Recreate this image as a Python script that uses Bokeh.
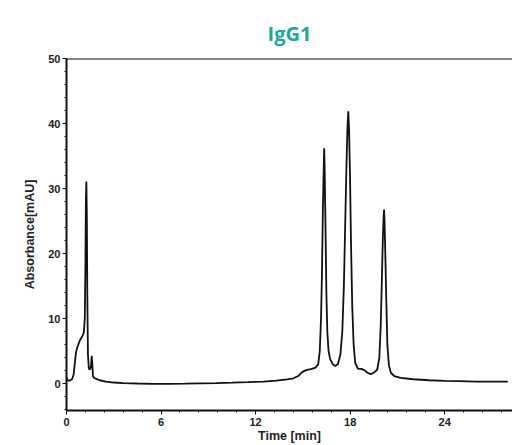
from bokeh.plotting import figure
from bokeh.models import SingleIntervalTicker, Range1d, ColumnDataSource, Span
from bokeh.embed import file_html
from bokeh.resources import INLINE

# --- data ---
time_min = [0.0, 0.08, 0.2, 0.35, 0.45, 0.52, 0.6, 0.68, 0.72, 0.8, 0.9, 1.0, 1.1,
            1.16, 1.2, 1.23, 1.26, 1.29, 1.32, 1.36, 1.42, 1.5, 1.56, 1.6, 1.64,
            1.68, 1.75, 1.9, 2.1, 2.5, 3.0, 3.6, 4.5, 5.5, 6.5, 7.5, 8.5, 9.5, 10.5,
            11.5, 12.5, 13.3, 14.0, 14.4, 14.7, 14.95, 15.2, 15.5, 15.8, 15.97,
            16.07, 16.15, 16.21, 16.27, 16.32, 16.35, 16.38, 16.43, 16.49, 16.55,
            16.63, 16.73, 16.9, 17.05, 17.22, 17.38, 17.5, 17.6, 17.68, 17.76,
            17.83, 17.88, 17.93, 17.99, 18.05, 18.13, 18.22, 18.32, 18.5, 18.7,
            18.9, 19.1, 19.3, 19.5, 19.72, 19.85, 19.94, 20.01, 20.07, 20.12, 20.15,
            20.18, 20.23, 20.29, 20.36, 20.46, 20.58, 20.8, 21.2, 22.0, 23.0, 24.0,
            25.0, 26.0, 27.0, 28.0]
absorbance = [1.0, 0.5, 0.5, 0.7, 1.4, 3.0, 4.8, 5.6, 5.8, 6.4, 6.9, 7.3, 7.9,
              10.0, 18.0, 28.0, 31.1, 26.0, 14.0, 4.5, 2.3, 2.2, 2.8, 4.3, 3.0,
              1.2, 0.9, 0.75, 0.55, 0.35, 0.2, 0.1, 0.05, 0.0, 0.0, 0.03, 0.08,
              0.12, 0.18, 0.25, 0.35, 0.5, 0.7, 0.85, 1.2, 1.8, 2.1, 2.25, 2.5,
              3.0, 5.0, 10.0, 17.0, 27.0, 33.0, 36.2, 33.0, 25.0, 14.0, 8.0, 5.0,
              3.8, 3.0, 2.75, 3.0, 4.5, 8.0, 15.0, 24.0, 33.0, 39.5, 41.9, 39.0,
              32.0, 22.0, 12.0, 6.0, 3.2, 2.3, 2.3, 2.1, 1.7, 1.5, 1.7, 2.2, 4.0,
              9.0, 16.0, 22.0, 25.5, 26.8, 25.0, 20.0, 13.0, 6.0, 2.8, 1.7, 1.2,
              0.9, 0.7, 0.55, 0.45, 0.4, 0.35, 0.35, 0.35]

x_ticks_interval = 6
y_ticks_interval = 10
x_start, x_end = 0, 28.3
y_start, y_end = -4.1, 50

title_text = "IgG1"
x_label = "Time [min]"
y_label = "Absorbance[mAU]"

source = ColumnDataSource(data=dict(t=time_min, a=absorbance))

p = figure(width=512, height=445, output_backend="svg", toolbar_location=None,
           x_range=Range1d(x_start, x_end), y_range=Range1d(y_start, y_end),
           min_border_left=66, min_border_top=58, min_border_right=0,
           min_border_bottom=34, title=title_text)

p.title.text_font = "Open Sans"
p.title.text_font_style = "bold"
p.title.text_font_size = "20px"
p.title.text_color = "#1ba99c"
p.title.align = "center"
p.title.vertical_align = "top"
p.title.standoff = 20

p.outline_line_color = None
p.xgrid.visible = False
p.ygrid.visible = False
p.background_fill_color = "white"
p.border_fill_color = "white"

p.line("t", "a", source=source, line_color="#111111", line_width=1.8)

top_line = Span(location=y_end, dimension="width", line_color="#111111", line_width=2)
p.add_layout(top_line)

for ax in (p.xaxis[0], p.yaxis[0]):
    ax.axis_line_width = 2
    ax.axis_line_color = "#111111"
    ax.major_tick_line_color = "#111111"
    ax.minor_tick_line_color = "#111111"
    ax.major_tick_in = 0
    ax.major_tick_out = 4
    ax.minor_tick_in = 0
    ax.minor_tick_out = 2
    ax.major_label_text_font = "Liberation Sans"
    ax.major_label_text_font_style = "bold"
    ax.major_label_text_font_size = "11px"
    ax.major_label_text_color = "#222222"
    ax.axis_label_text_font = "Liberation Sans"
    ax.axis_label_text_font_style = "bold"
    ax.axis_label_text_font_size = "12.5px"
    ax.axis_label_text_color = "#222222"

p.xaxis[0].ticker = SingleIntervalTicker(interval=x_ticks_interval, num_minor_ticks=5)
p.yaxis[0].ticker = SingleIntervalTicker(interval=y_ticks_interval, num_minor_ticks=5)
p.xaxis[0].axis_label = x_label
p.yaxis[0].axis_label = y_label
p.xaxis[0].major_label_standoff = 3
p.xaxis[0].axis_label_standoff = 0
p.yaxis[0].major_label_standoff = 2
p.yaxis[0].axis_label_standoff = 8

open("out.html", "w").write(file_html(p, INLINE))
